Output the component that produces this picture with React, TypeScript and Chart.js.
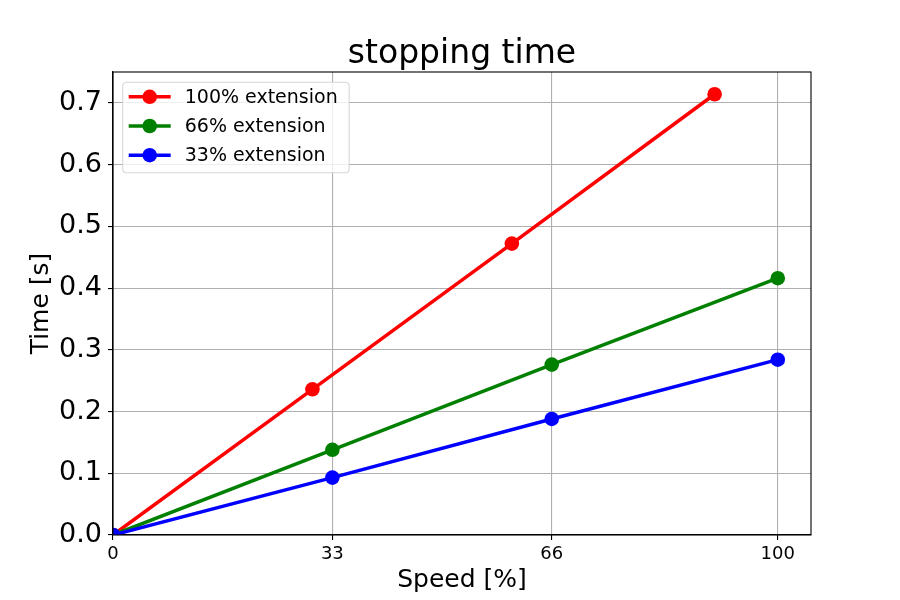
import React, { useEffect, useRef } from "react";
import { Chart, registerables } from "chart.js";

Chart.register(...registerables);

const chartTitle = "stopping time";
const seriesLabels = ["100% extension", "66% extension", "33% extension"];
const seriesColors = ["#ff0000", "#008000", "#0000ff"];
const redX = [0, 30, 60, 90.5];
const redY = [0, 0.236, 0.472, 0.714];
const greenX = [0, 33, 66, 100];
const greenY = [0, 0.138, 0.276, 0.416];
const blueX = [0, 33, 66, 100];
const blueY = [0, 0.093, 0.188, 0.284];
const xTicks = [0, 33, 66, 100];
const xRange = [0, 105];
const yRange = [0, 0.75];
const yStep = 0.1;

const FONT = "'DejaVu Sans', sans-serif";

function toPoints(xs: number[], ys: number[]) {
  return xs.map((x, i) => ({ x, y: ys[i] }));
}

const framePlugin = {
  id: "frameAndLegend",
  afterDraw(chart: any) {
    const { ctx, chartArea } = chart;
    const { left, top, right, bottom } = chartArea;
    ctx.save();
    // spines
    ctx.strokeStyle = "#000";
    ctx.lineWidth = 1.1;
    ctx.strokeRect(left, top, right - left, bottom - top);

    // title
    ctx.fillStyle = "#000";
    ctx.font = `33px ${FONT}`;
    ctx.textAlign = "center";
    ctx.textBaseline = "alphabetic";
    ctx.fillText(chartTitle, (left + right) / 2, 63);

    // legend
    const fs = 19;
    const pad = 9.7;
    const bx = left + pad;
    const by = top + pad + 0.5;
    const bw = 226.5;
    const bh = 90.5;
    const r = 4;
    ctx.beginPath();
    ctx.moveTo(bx + r, by);
    ctx.lineTo(bx + bw - r, by);
    ctx.quadraticCurveTo(bx + bw, by, bx + bw, by + r);
    ctx.lineTo(bx + bw, by + bh - r);
    ctx.quadraticCurveTo(bx + bw, by + bh, bx + bw - r, by + bh);
    ctx.lineTo(bx + r, by + bh);
    ctx.quadraticCurveTo(bx, by + bh, bx, by + bh - r);
    ctx.lineTo(bx, by + r);
    ctx.quadraticCurveTo(bx, by, bx + r, by);
    ctx.closePath();
    ctx.fillStyle = "rgba(255,255,255,0.8)";
    ctx.fill();
    ctx.strokeStyle = "rgba(204,204,204,0.8)";
    ctx.lineWidth = 1.1;
    ctx.stroke();

    chart.data.datasets.forEach((ds: any, i: number) => {
      const cy = by + 14.6 + i * 29.2;
      const x0 = bx + 6;
      const x1 = bx + 48;
      ctx.strokeStyle = ds.borderColor;
      ctx.lineWidth = 3.5;
      ctx.beginPath();
      ctx.moveTo(x0, cy);
      ctx.lineTo(x1, cy);
      ctx.stroke();
      ctx.fillStyle = ds.borderColor;
      ctx.beginPath();
      ctx.arc((x0 + x1) / 2, cy, 7.3, 0, Math.PI * 2);
      ctx.fill();
      ctx.fillStyle = "#000";
      ctx.font = `${fs}px ${FONT}`;
      ctx.textBaseline = "middle";
      ctx.textAlign = "left";
      ctx.fillText(ds.label, bx + 62, cy + 1);
    });
    ctx.restore();
  },
};

export default function App() {
  const ref = useRef<HTMLCanvasElement | null>(null);

  useEffect(() => {
    document.body.style.margin = "0";
    const canvas = ref.current;
    if (!canvas) return;
    const xs = [redX, greenX, blueX];
    const ys = [redY, greenY, blueY];
    const chart = new Chart(canvas, {
      type: "line",
      data: {
        datasets: seriesLabels.map((label, i) => ({
          label,
          data: toPoints(xs[i], ys[i]),
          borderColor: seriesColors[i],
          backgroundColor: seriesColors[i],
          pointBackgroundColor: seriesColors[i],
          pointBorderWidth: 0,
          pointRadius: 7.3,
          pointHoverRadius: 7.3,
          borderWidth: 3.5,
          fill: false,
          tension: 0,
          clip: 0,
          order: 3 - i,
        })),
      },
      options: {
        animation: false,
        responsive: false,
        maintainAspectRatio: false,
        devicePixelRatio: 1,
        layout: { padding: { left: 0, right: 89, top: 72, bottom: 0 } },
        plugins: {
          legend: { display: false },
          tooltip: { enabled: false },
          title: { display: false },
        },
        scales: {
          x: {
            type: "linear",
            min: xRange[0],
            max: xRange[1],
            afterBuildTicks: (scale: any) => {
              scale.ticks = xTicks.map((v) => ({ value: v }));
            },
            afterFit: (scale: any) => {
              scale.height = 65;
            },
            grid: {
              color: "#b0b0b0",
              lineWidth: 1.1,
              tickColor: "#000",
              tickLength: 5,
            },
            border: { color: "#000", width: 1.1 },
            ticks: {
              color: "#000",
              font: { family: FONT, size: 18 },
              padding: 4,
              maxRotation: 0,
              autoSkip: false,
              callback: (v: any) => String(v),
            },
            title: {
              display: true,
              text: "Speed [%]",
              color: "#000",
              font: { family: FONT, size: 25, lineHeight: 1.2 },
              padding: { top: 0, bottom: 5 },
            },
          },
          y: {
            type: "linear",
            min: yRange[0],
            max: yRange[1],
            afterFit: (scale: any) => {
              scale.width = 113;
            },
            grid: {
              color: "#b0b0b0",
              lineWidth: 1.1,
              tickColor: "#000",
              tickLength: 5,
            },
            border: { color: "#000", width: 1.1 },
            ticks: {
              stepSize: yStep,
              includeBounds: false,
              color: "#000",
              font: { family: FONT, size: 27 },
              padding: 6,
              callback: (v: any) => Number(v).toFixed(1),
            },
            title: {
              display: true,
              text: "Time [s]",
              color: "#000",
              font: { family: FONT, size: 25, lineHeight: 1.2 },
              padding: { top: 26, bottom: 0 },
            },
          },
        },
      },
      plugins: [framePlugin],
    });
    return () => chart.destroy();
  }, []);

  return (
    <div style={{ position: "absolute", left: 0, top: 0, width: 900, height: 600, background: "#fff" }}>
      <canvas ref={ref} width={900} height={600} style={{ width: 900, height: 600 }} />
    </div>
  );
}
